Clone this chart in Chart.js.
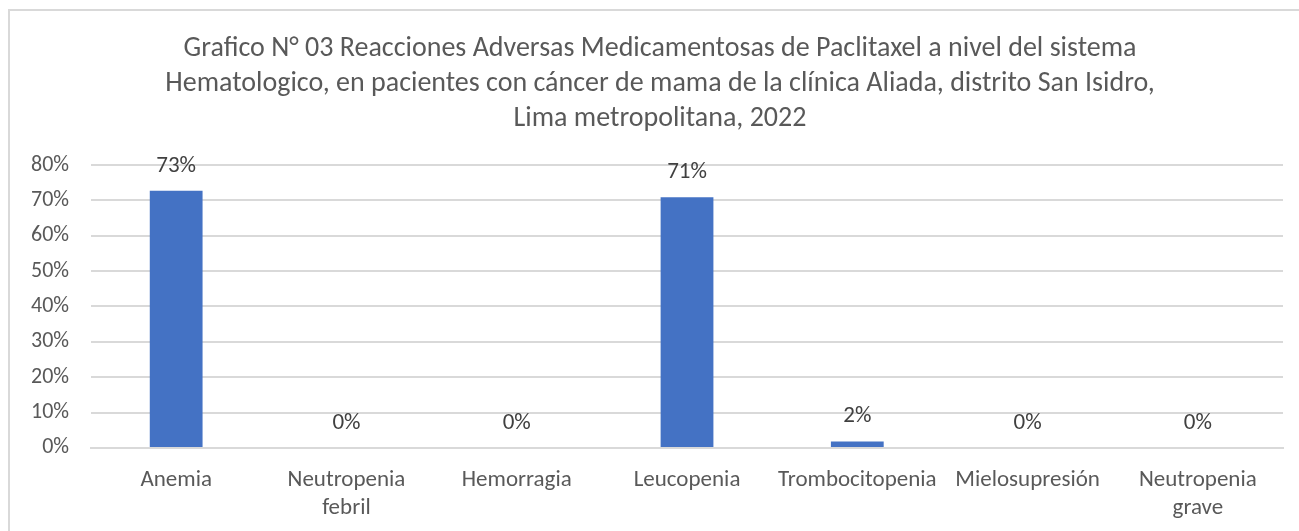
<!DOCTYPE html>
<html>
<head>
<meta charset="utf-8">
<script src="https://cdn.jsdelivr.net/npm/chart.js@4.4.0/dist/chart.umd.min.js"></script>
<style>
  html, body { margin: 0; padding: 0; background: #fff; }
  #frame {
    position: absolute; left: 8px; top: 9px; width: 1300px; height: 530px;
    border-left: 2px solid #d9d9d9; border-top: 2px solid #d9d9d9;
  }
  #wrap { position: absolute; left: 0; top: 0; width: 1299px; height: 531px; }
</style>
</head>
<body>
<div id="frame"></div>
<div id="wrap"><canvas id="Graphic"></canvas></div>
<script>
const categories = [
    "Anemia",
    ["Neutropenia", "febril"],
    "Hemorragia",
    "Leucopenia",
    "Trombocitopenia",
    "Mielosupresión",
    ["Neutropenia", "grave"]
];
const values = [0.727, 0, 0, 0.709, 0.018, 0, 0];
const valueLabels = ["73%", "0%", "0%", "71%", "2%", "0%", "0%"];
const titleLines = [
    "Grafico N° 03 Reacciones Adversas Medicamentosas de Paclitaxel a nivel del sistema",
    "Hematologico, en pacientes con cáncer de mama de la clínica Aliada, distrito San Isidro,",
    "Lima metropolitana, 2022"
];

const fontFamily = "Carlito, Calibri, 'Liberation Sans', sans-serif";
const textColor = "#595959";

// draws the value labels above each bar
const barLabels = {
    id: "barLabels",
    afterDatasetsDraw(chart) {
        const ctx = chart.ctx;
        const meta = chart.getDatasetMeta(0);
        ctx.save();
        ctx.font = "23px " + fontFamily;
        ctx.fillStyle = "#404040";
        ctx.textAlign = "center";
        ctx.textBaseline = "middle";
        meta.data.forEach((bar, i) => {
            ctx.fillText(valueLabels[i], bar.x, bar.y - 25);
        });
        ctx.restore();
    }
};

// the title in the original sits a bit right of the plot's centre
const titleShift = {
    id: "titleShift",
    afterLayout(chart) {
        if (chart.titleBlock) {
            chart.titleBlock.left += 28;
        }
    }
};

new Chart(document.getElementById("Graphic").getContext("2d"), {
    type: "bar",
    data: {
        labels: categories,
        datasets: [{
            data: values,
            backgroundColor: "#4472C4",
            barPercentage: 0.31,
            categoryPercentage: 1
        }]
    },
    options: {
        responsive: true,
        maintainAspectRatio: false,
        animation: false,
        layout: { padding: { left: 9, right: 16, top: 31, bottom: -9 } },
        plugins: {
            legend: { display: false },
            tooltip: { enabled: false },
            title: {
                display: true,
                text: titleLines,
                color: textColor,
                font: { family: fontFamily, size: 28, weight: "normal", lineHeight: 1.25 },
                padding: { top: 0, bottom: 29 }
            }
        },
        scales: {
            y: {
                min: 0,
                max: 0.8,
                ticks: {
                    stepSize: 0.1,
                    color: textColor,
                    padding: 22,
                    font: { family: fontFamily, size: 22 },
                    callback: v => Math.round(v * 100) + "%"
                },
                grid: { color: "#d9d9d9", lineWidth: 2, drawTicks: false },
                border: { display: false }
            },
            x: {
                ticks: {
                    color: textColor,
                    padding: 18,
                    autoSkip: false,
                    maxRotation: 0,
                    font: { family: fontFamily, size: 23, lineHeight: 1.22 }
                },
                grid: { display: false, drawTicks: false },
                border: { color: "#d9d9d9", width: 2 }
            }
        }
    },
    plugins: [barLabels, titleShift]
});
</script>
</body>
</html>
